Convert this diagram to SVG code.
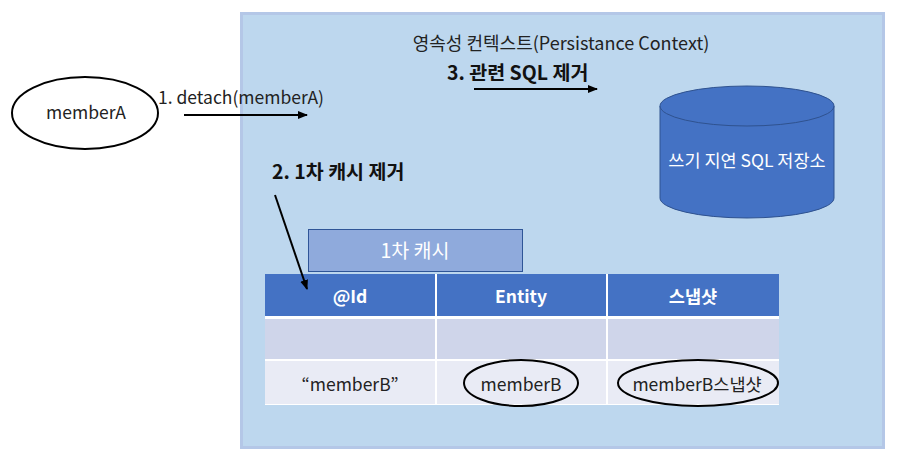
<svg xmlns="http://www.w3.org/2000/svg" width="899" height="462" viewBox="0 0 899 462">
<defs>
<style>
text{font-family:"Malgun Gothic","Noto Sans CJK KR","Liberation Sans",sans-serif;}
.t16{font-size:16px;fill:#222;}
.t17{font-size:17.5px;fill:#222;}
.t19{font-size:19.5px;fill:#111;}
.b{font-weight:bold;}
.w{fill:#fff;}
.ln{stroke:#000;stroke-width:2;fill:none;}
.ell{fill:none;stroke:#000;stroke-width:2;}
</style>
<marker id="ah" viewBox="0 0 10 10" refX="9" refY="5" markerWidth="5" markerHeight="5" orient="auto"><path d="M0,1 L10,5 L0,9 z" fill="#000"/></marker>
</defs>
<g id="context">
<rect x="241.5" y="13.5" width="642" height="434" fill="#bdd7ee" stroke="#b4c7e7" stroke-width="3"/>
<text class="t17" x="561" y="50" text-anchor="middle" style="font-size:18px">영속성 컨텍스트(Persistance Context)</text>
</g>
<g id="memberA">
<ellipse cx="85" cy="113" rx="73" ry="36" fill="#fff" stroke="#000" stroke-width="2"/>
<text class="t17" x="86" y="119" text-anchor="middle">memberA</text>
</g>
<g id="store">
<path d="M660,106 L660,198 A87,20 0 0 0 834,198 L834,106" fill="#4472c4" stroke="#2f528f" stroke-width="1"/>
<ellipse cx="747" cy="106" rx="87" ry="20" fill="#4472c4" stroke="#2f528f" stroke-width="1"/>
<text class="t17 w" x="747" y="167" text-anchor="middle">쓰기 지연 SQL 저장소</text>
</g>
<g id="cache-label">
<rect x="308.5" y="229.5" width="214" height="42" fill="#8faadc" stroke="#2f5597" stroke-width="1"/>
<text class="t19 w" x="415" y="258" text-anchor="middle">1차 캐시</text>
</g>
<g id="table">
<rect x="265" y="274" width="514" height="131" fill="#fff"/>
<rect x="265" y="274" width="170" height="42" fill="#4472c4"/>
<rect x="437" y="274" width="169" height="42" fill="#4472c4"/>
<rect x="608" y="274" width="171" height="42" fill="#4472c4"/>
<rect x="265" y="319" width="170" height="40" fill="#cfd5ea"/>
<rect x="437" y="319" width="169" height="40" fill="#cfd5ea"/>
<rect x="608" y="319" width="171" height="40" fill="#cfd5ea"/>
<rect x="265" y="361" width="170" height="43" fill="#e9ebf5"/>
<rect x="437" y="361" width="169" height="43" fill="#e9ebf5"/>
<rect x="608" y="361" width="171" height="43" fill="#e9ebf5"/>
<text class="t17 w b" x="350" y="303" text-anchor="middle">@Id</text>
<text class="t17 w b" x="521" y="303" text-anchor="middle">Entity</text>
<text class="t17 w b" x="693" y="303" text-anchor="middle">스냅샷</text>
<text class="t17" x="350" y="391" text-anchor="middle">“memberB”</text>
<text class="t17" x="521" y="391" text-anchor="middle">memberB</text>
<text class="t17" x="697" y="391" text-anchor="middle">memberB스냅샷</text>
</g>
<g id="memberB-marks">
<ellipse class="ell" cx="521" cy="383" rx="57" ry="23"/>
<ellipse class="ell" cx="698" cy="383" rx="80" ry="23"/>
</g>
<g id="connectors">
<line class="ln" x1="184" y1="115" x2="307" y2="115" marker-end="url(#ah)"/>
<line class="ln" x1="474" y1="89" x2="597" y2="89" marker-end="url(#ah)"/>
<line class="ln" x1="275" y1="195" x2="307" y2="289" marker-end="url(#ah)"/>
</g>
<g id="labels">
<text class="t17" x="158" y="104">1. detach(memberA)</text>
<text class="t19 b" x="447" y="80">3. 관련 SQL 제거</text>
<text class="t19 b" x="272" y="179">2. 1차 캐시 제거</text>
</g>
</svg>
